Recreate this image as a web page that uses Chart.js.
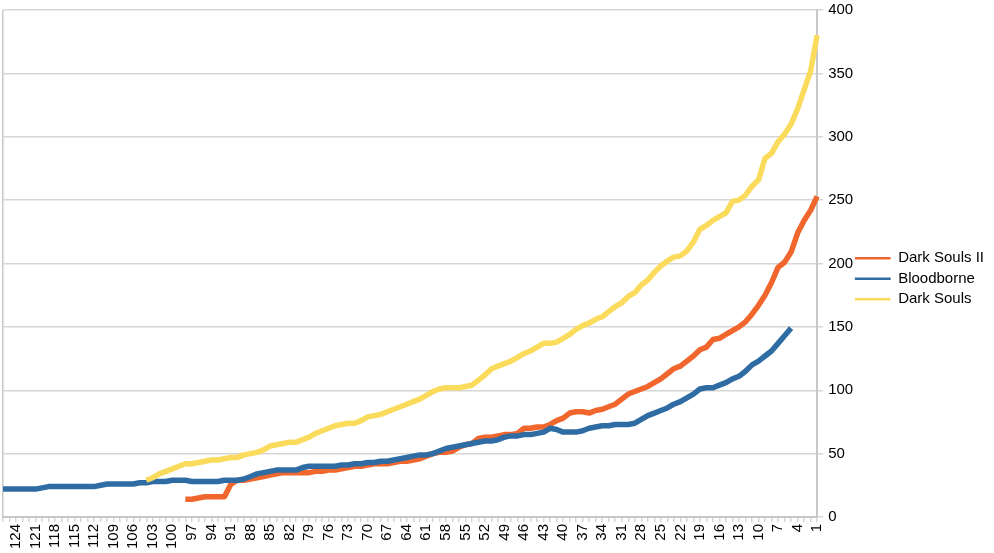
<!DOCTYPE html>
<html>
<head>
<meta charset="utf-8">
<script src="https://cdn.jsdelivr.net/npm/chart.js@4.4.1/dist/chart.umd.min.js"></script>
<style>
  html, body { margin: 0; padding: 0; background: #fff; }
</style>
</head>
<body>
<canvas id="chart" width="994" height="553"></canvas>
<script>
// categories run from 126 down to 1
const categories = [
  126, 125, 124, 123, 122, 121, 120, 119, 118, 117, 116, 115, 114, 113, 112, 111,
  110, 109, 108, 107, 106, 105, 104, 103, 102, 101, 100, 99, 98, 97, 96, 95, 94,
  93, 92, 91, 90, 89, 88, 87, 86, 85, 84, 83, 82, 81, 80, 79, 78, 77, 76, 75, 74,
  73, 72, 71, 70, 69, 68, 67, 66, 65, 64, 63, 62, 61, 60, 59, 58, 57, 56, 55, 54,
  53, 52, 51, 50, 49, 48, 47, 46, 45, 44, 43, 42, 41, 40, 39, 38, 37, 36, 35, 34,
  33, 32, 31, 30, 29, 28, 27, 26, 25, 24, 23, 22, 21, 20, 19, 18, 17, 16, 15, 14,
  13, 12, 11, 10, 9, 8, 7, 6, 5, 4, 3, 2, 1
];

// only these get a label under the axis
const tickLabels = [
  124, 121, 118, 115, 112, 109, 106, 103, 100, 97, 94, 91, 88, 85, 82, 79, 76, 73,
  70, 67, 64, 61, 58, 55, 52, 49, 46, 43, 40, 37, 34, 31, 28, 25, 22, 19, 16, 13,
  10, 7, 4, 1
];

const yTicks = [0, 50, 100, 150, 200, 250, 300, 350, 400];

const seriesNames = ['Dark Souls II', 'Bloodborne', 'Dark Souls'];

const darkSouls2 = [
  null, null, null, null, null, null, null, null, null, null,   // 126-117
  null, null, null, null, null, null, null, null, null, null,   // 116-107
  null, null, null, null, null, null, null, null,               // 106-99
  14, 14, 15, 16, 16, 16, 16, 26,                               // 98-91
  29, 29, 30, 31, 32, 33, 34, 35, 35, 35,                       // 90-81
  35, 35, 36, 36, 37, 37, 38, 39, 40, 40,                       // 80-71
  41, 42, 42, 42, 43, 44, 44, 45, 46, 48,                       // 70-61
  50, 51, 51, 52, 55, 57, 58, 62, 63, 63,                       // 60-51
  64, 65, 65, 66, 70, 70, 71, 71, 73, 76,                       // 50-41
  78, 82, 83, 83, 82, 84, 85, 87, 89, 93,                       // 40-31
  97, 99, 101, 103, 106, 109, 113, 117, 119, 123,               // 30-21
  127, 132, 134, 140, 141, 144, 147, 150, 154, 160,             // 20-11
  167, 175, 185, 197, 201, 209, 224, 234, 242, 253              // 10-1
];

const bloodborne = [
  22, 22, 22, 22, 22, 22,                                       // 126-121
  23, 24, 24, 24, 24, 24, 24, 24, 24, 25,                       // 120-111
  26, 26, 26, 26, 26, 27, 27, 28, 28, 28,                       // 110-101
  29, 29, 29, 28, 28, 28, 28, 28, 29, 29,                       // 100-91
  29, 30, 32, 34, 35, 36, 37, 37, 37, 37,                       // 90-81
  39, 40, 40, 40, 40, 40, 41, 41, 42, 42,                       // 80-71
  43, 43, 44, 44, 45, 46, 47, 48, 49, 49,                       // 70-61
  50, 52, 54, 55, 56, 57, 58, 59, 60, 60,                       // 60-51
  61, 63, 64, 64, 65, 65, 66, 67, 70, 69,                       // 50-41
  67, 67, 67, 68, 70, 71, 72, 72, 73, 73,                       // 40-31
  73, 74, 77, 80, 82, 84, 86, 89, 91, 94,                       // 30-21
  97, 101, 102, 102, 104, 106, 109, 111, 115, 120,              // 20-11
  123, 127, 131, 137, 143, 149, null, null, null, null          // 10-1
];

const darkSouls = [
  null, null, null, null, null, null, null, null, null, null,   // 126-117
  null, null, null, null, null, null, null, null, null, null,   // 116-107
  null, null,                                                   // 106-105
  29, 31, 34, 36,                                               // 104-101
  38, 40, 42, 42, 43, 44, 45, 45, 46, 47,                       // 100-91
  47, 49, 50, 51, 53, 56, 57, 58, 59, 59,                       // 90-81
  61, 63, 66, 68, 70, 72, 73, 74, 74, 76,                       // 80-71
  79, 80, 81, 83, 85, 87, 89, 91, 93, 96,                       // 70-61
  99, 101, 102, 102, 102, 103, 104, 108, 112, 117,              // 60-51
  119, 121, 123, 126, 129, 131, 134, 137, 137, 138,             // 50-41
  141, 144, 148, 151, 153, 156, 158, 162, 166, 169,             // 40-31
  174, 177, 183, 187, 193, 198, 202, 205, 206, 210,             // 30-21
  217, 227, 230, 234, 237, 240, 249, 250, 254, 261,             // 20-11
  266, 283, 287, 296, 302, 310, 322, 337, 352, 380              // 10-1
];

const seriesColors = ['#f1662c', '#2f6ca3', '#fadb5c'];

const gridColor = '#d6d6d6';
const axisColor = '#c8c8c8';

Chart.defaults.font.family = '"Liberation Sans", Arial, Helvetica, sans-serif';
Chart.defaults.font.size = 15;
Chart.defaults.color = '#000';

const defaultLabels = Chart.defaults.plugins.legend.labels.generateLabels;

const ctx = document.getElementById('chart').getContext('2d');
const chart = new Chart(ctx, {
  type: 'line',
  data: {
    labels: categories,
    datasets: [
      { label: seriesNames[0], data: darkSouls2, borderColor: seriesColors[0], backgroundColor: seriesColors[0], order: 2 },
      { label: seriesNames[1], data: bloodborne, borderColor: seriesColors[1], backgroundColor: seriesColors[1], order: 1 },
      { label: seriesNames[2], data: darkSouls, borderColor: seriesColors[2], backgroundColor: seriesColors[2], order: 0 }
    ]
  },
  options: {
    responsive: false,
    animation: false,
    layout: { padding: { left: 3, top: 10, right: 0, bottom: 0 } },
    elements: {
      line: { borderWidth: 5.5, tension: 0, fill: false, borderJoinStyle: 'round', borderCapStyle: 'butt' },
      point: { radius: 0, hoverRadius: 0 }
    },
    plugins: {
      tooltip: { enabled: false },
      legend: {
        position: 'right',
        align: 'center',
        labels: {
          usePointStyle: true,
          pointStyle: 'line',
          pointStyleWidth: 36,
          boxWidth: 36,
          padding: 0,
          color: '#000',
          // one-line array text so the row height follows lineHeight
          font: { size: 15, lineHeight: 1.37 },
          sort: (a, b) => a.datasetIndex - b.datasetIndex,
          generateLabels: function(chart) {
            const items = defaultLabels(chart);
            items.forEach(function(item) {
              item.lineWidth = 2.5;
              item.text = [item.text];
            });
            return items;
          }
        }
      }
    },
    scales: {
      x: {
        grid: {
          // only the first line is drawn across the plot, as its left edge
          color: (c) => c.index === 0 ? axisColor : 'rgba(0,0,0,0)',
          tickColor: gridColor,
          lineWidth: 1.5,
          tickLength: 5,
          drawOnChartArea: true
        },
        border: { color: axisColor, width: 2 },
        ticks: {
          autoSkip: false,
          minRotation: 90,
          maxRotation: 90,
          padding: 2,
          callback: function(value, index) {
            const c = categories[index];
            return tickLabels.includes(c) ? String(c) : '';
          }
        },
        afterFit: function(scale) {
          scale.height = 36;
          scale.paddingLeft = 0;
          scale.paddingRight = 0;
        }
      },
      y: {
        position: 'right',
        min: yTicks[0],
        max: yTicks[yTicks.length - 1],
        afterBuildTicks: function(scale) {
          scale.ticks = yTicks.map(v => ({ value: v }));
        },
        ticks: { padding: 5 },
        grid: { color: gridColor, lineWidth: 1.5, tickLength: 6 },
        border: { color: axisColor, width: 2 },
        afterFit: function(scale) {
          scale.width = 37.5;
          scale.paddingTop = 0;
          scale.paddingBottom = 0;
        }
      }
    }
  }
});
</script>
</body>
</html>
